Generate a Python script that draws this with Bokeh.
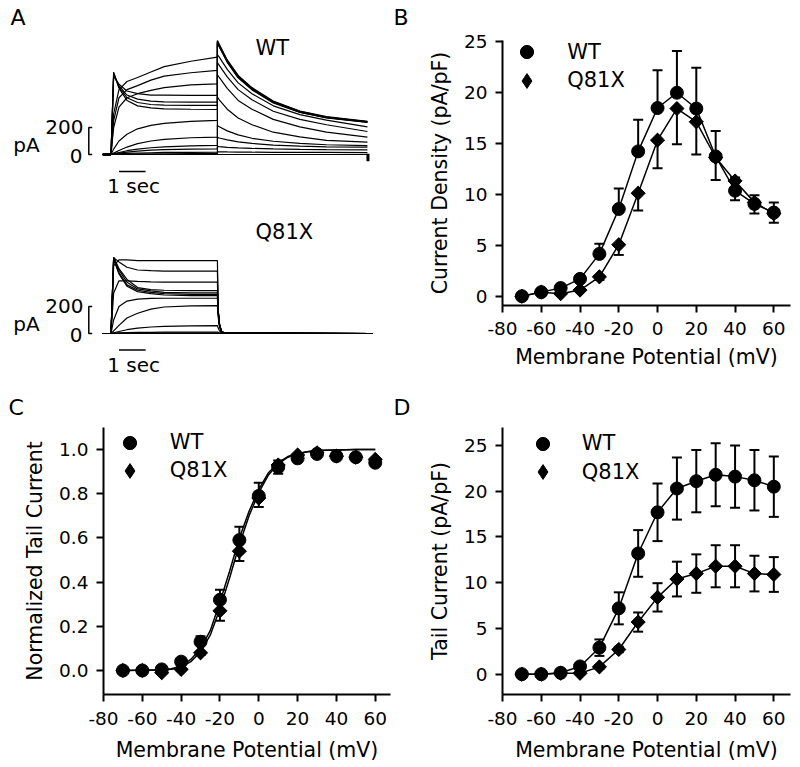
from math import pi
from bokeh.plotting import figure
from bokeh.models import (Range1d, FixedTicker, Whisker, TeeHead, ColumnDataSource,
                          Legend, LegendItem, Label, PrintfTickFormatter)
from bokeh.layouts import row, column
from bokeh.embed import file_html
from bokeh.resources import INLINE

FONT = "DejaVu Sans"

# ---------------------------------------------------------------- data
VOLTS = [-70, -60, -50, -40, -30, -20, -10, 0, 10, 20, 30, 40, 50, 60]
X_TICKS = [-80, -60, -40, -20, 0, 20, 40, 60]
X_LABEL = "Membrane Potential (mV)"

# Panel B: current density (pA/pF)
B_WT = [0, 0.4, 0.8, 1.7, 4.15, 8.55, 14.2, 18.45, 19.95, 18.4, 13.7, 10.35, 9.05, 8.2]
B_WT_ERR = [0, 0, 0, 0.2, 1.0, 2.0, 3.1, 3.7, 4.1, 4.0, 2.5, 1.3, 0.85, 1.0]
B_Q = [0, 0.4, 0.25, 0.6, 1.9, 5.05, 10.1, 15.3, 18.4, 17.1, 13.6, 11.3, 9.2, 8.1]
B_Q_ERR = [0, 0, 0, 0, 0.3, 1.0, 1.7, 2.75, 3.5, 3.2, 2.2, 1.9, 1.1, 0.9]
B_TICKS = [0, 5, 10, 15, 20, 25]

# Panel C: normalized tail current
C_WT = [0, 0, 0.005, 0.04, 0.13, 0.32, 0.59, 0.79, 0.92, 0.96, 0.98, 0.97, 0.965, 0.94]
C_WT_ERR = [0, 0, 0, 0.01, 0.025, 0.045, 0.06, 0.06, 0.03, 0.02, 0.01, 0.015, 0.01, 0.02]
C_Q = [0, 0, -0.01, 0.005, 0.08, 0.27, 0.54, 0.78, 0.93, 0.975, 0.985, 0.97, 0.965, 0.955]
C_Q_ERR = [0, 0, 0, 0, 0.01, 0.045, 0.045, 0.04, 0.04, 0.01, 0.01, 0.01, 0.01, 0.02]
FIT_V = [-70, -50, -45, -40, -35, -30, -25, -20, -15, -10, -5, 0, 5, 10, 15, 20, 25, 30, 40, 50, 60]
FIT_WT = [0.0, 0.003, 0.008, 0.02, 0.05, 0.10, 0.18, 0.31, 0.45, 0.60, 0.72, 0.82, 0.895,
          0.94, 0.968, 0.982, 0.99, 0.995, 0.998, 1.0, 1.0]
FIT_Q = [0.0, 0.002, 0.006, 0.015, 0.04, 0.085, 0.16, 0.28, 0.42, 0.57, 0.70, 0.805, 0.885,
         0.935, 0.965, 0.98, 0.99, 0.995, 0.998, 1.0, 1.0]
C_TICKS = [0.0, 0.2, 0.4, 0.6, 0.8, 1.0]

# Panel D: tail current (pA/pF)
D_WT = [0, 0, 0.15, 0.85, 2.9, 7.2, 13.2, 17.7, 20.3, 21.1, 21.8, 21.6, 21.2, 20.5]
D_WT_ERR = [0, 0, 0.1, 0.3, 0.9, 1.75, 2.55, 3.15, 3.4, 3.4, 3.45, 3.4, 3.3, 3.3]
D_Q = [0, 0, 0.1, 0.1, 0.8, 2.7, 5.7, 8.4, 10.4, 11.0, 11.8, 11.8, 11.0, 10.9]
D_Q_ERR = [0, 0, 0, 0.1, 0.2, 0.3, 1.05, 1.55, 1.9, 2.1, 2.3, 2.3, 1.95, 1.9]
D_TICKS = [0, 5, 10, 15, 20, 25]

# Panel A: current traces (time in s, current in pA), one trace per step voltage
HOLD_T = [-0.32, 0.0]
STEP_T = [0, 0.1, 0.3, 0.6, 1.0, 1.5, 2.0, 3.0, 4.0]
WT_TAIL_T = [4.0, 4.07, 4.37, 4.78, 5.3, 6.1, 7.1, 8.1, 9.64]
Q_TAIL_T = [4.0, 4.03, 4.08, 4.15, 4.25, 9.83]

WT_STEP = [
    [0, 0, 0, 0, 0, 0, 0, 0, 0],
    [0, 1, 2, 3, 4, 5, 5, 6, 6],
    [0, 2, 5, 8, 11, 13, 15, 16, 17],
    [0, 3, 10, 18, 25, 32, 36, 40, 42],
    [0, 5, 15, 28, 40, 50, 57, 64, 67],
    [0, 10, 30, 55, 80, 100, 112, 124, 128],
    [0, 40, 100, 150, 190, 215, 230, 245, 252],
    [0, 200, 350, 420, 450, 475, 495, 515, 523],
    [0, 250, 420, 480, 510, 550, 580, 605, 622],
    [0, 300, 480, 540, 570, 610, 650, 690, 720],
    [0, 580, 520, 470, 450, 440, 440, 437, 437],
    [0, 590, 510, 440, 410, 395, 390, 387, 387],
    [0, 600, 500, 420, 385, 370, 365, 363, 363],
    [0, 610, 490, 400, 360, 345, 338, 335, 333],
]
WT_TAIL = [
    [0, 0, 0, 0, 0, 0, 0, 0, 0],
    [20, 20, 19, 18, 17, 16, 15, 15, 14],
    [60, 58, 53, 49, 45, 41, 38, 36, 34],
    [128, 122, 108, 94, 82, 70, 62, 57, 54],
    [215, 205, 175, 145, 120, 98, 82, 72, 66],
    [424, 405, 335, 270, 220, 165, 130, 105, 91],
    [590, 570, 490, 400, 335, 260, 205, 165, 128],
    [680, 660, 575, 480, 405, 320, 260, 220, 170],
    [740, 720, 630, 530, 450, 360, 295, 255, 205],
    [844, 815, 700, 585, 495, 395, 322, 280, 246],
    [838, 810, 695, 580, 490, 391, 319, 277, 244],
    [832, 805, 690, 575, 486, 388, 316, 275, 242],
    [826, 800, 686, 571, 482, 385, 314, 273, 240],
    [820, 795, 682, 567, 478, 382, 312, 271, 238],
]
WT_ART_T = [9.66, 9.66]
WT_ART_I = [5, -50]

Q_STEP = [
    [0, 0, 0, 0, 0, 0, 0, 0, 0],
    [0, 0, 0, 1, 1, 1, 1, 1, 1],
    [0, 1, 1, 2, 2, 3, 3, 3, 3],
    [0, 2, 4, 6, 8, 9, 10, 10, 10],
    [0, 5, 15, 28, 40, 48, 53, 57, 59],
    [0, 20, 60, 115, 150, 180, 196, 205, 207],
    [0, 100, 200, 240, 255, 260, 261, 261, 261],
    [0, 300, 390, 390, 385, 382, 380, 380, 380],
    [0, 500, 545, 545, 540, 540, 540, 540, 540],
    [0, 560, 530, 490, 470, 465, 462, 461, 461],
    [0, 565, 480, 400, 340, 325, 320, 318, 318],
    [0, 560, 470, 380, 330, 315, 305, 300, 300],
    [0, 555, 450, 360, 320, 305, 295, 290, 290],
    [0, 550, 440, 350, 310, 295, 285, 280, 280],
]
Q_TAIL = [
    [0, 0, 0, 0, 0, 0],
    [1, 0, 0, 0, 0, 0],
    [3, 2, 1, 0, 0, 0],
    [10, 8, 4, 1, 0, 0],
    [59, 40, 20, 5, 1, 0],
    [207, 120, 50, 12, 2, 0],
    [261, 150, 60, 15, 3, 0],
    [380, 165, 66, 17, 4, 0],
    [540, 175, 70, 18, 4, 0],
    [461, 172, 69, 18, 4, 0],
    [318, 160, 64, 16, 3, 0],
    [300, 158, 63, 16, 3, 0],
    [290, 156, 62, 16, 3, 0],
    [280, 155, 61, 15, 3, 0],
]
SCALE_PA = 200
SCALE_S = 1


# ---------------------------------------------------------------- helpers
def axes_fig(width, height, box, xb, yb, yticks, ylabel, yfmt, x_stand, x_lab_stand):
    """Figure whose frame fills the whole canvas; axes are pinned at the
    lower-left corner of the data box so that nothing is clipped."""
    bl, bt, bw, bh = box
    sx = bw / (xb[1] - xb[0])
    sy = bh / (yb[1] - yb[0])
    xr = (xb[0] - bl / sx, xb[1] + (width - bl - bw) / sx)
    yr = (yb[0] - (height - bt - bh) / sy, yb[1] + bt / sy)
    p = figure(width=width, height=height, output_backend="svg", toolbar_location=None,
               x_range=Range1d(*xr), y_range=Range1d(*yr), min_border=0)
    p.grid.visible = False
    p.outline_line_color = None
    p.background_fill_color = "white"
    p.border_fill_color = "white"
    p.xaxis.fixed_location = yb[0]
    p.yaxis.fixed_location = xb[0]
    p.xaxis.bounds = xb
    p.yaxis.bounds = yb
    p.xaxis.ticker = FixedTicker(ticks=X_TICKS)
    p.yaxis.ticker = FixedTicker(ticks=yticks)
    p.xaxis.formatter = PrintfTickFormatter(format="%d")
    p.yaxis.formatter = PrintfTickFormatter(format=yfmt)
    p.xaxis.axis_label = X_LABEL
    p.yaxis.axis_label = ylabel
    for ax in (p.xaxis[0], p.yaxis[0]):
        ax.axis_line_color = "black"
        ax.axis_line_width = 2
        ax.major_tick_line_color = "black"
        ax.major_tick_line_width = 2
        ax.major_tick_out = 7
        ax.major_tick_in = 0
        ax.minor_tick_line_color = None
        ax.major_label_text_font = FONT
        ax.major_label_text_font_size = "18.5px"
        ax.major_label_text_color = "black"
        ax.axis_label_text_font = FONT
        ax.axis_label_text_font_size = "20.5px"
        ax.axis_label_text_font_style = "normal"
        ax.axis_label_text_color = "black"
    p.yaxis.major_label_standoff = 8
    p.yaxis.axis_label_standoff = 9
    p.xaxis.major_label_standoff = x_stand
    p.xaxis.axis_label_standoff = x_lab_stand

    def to_data(px, py):
        return xr[0] + px / sx, yr[1] - py / sy
    return p, to_data


def whisker(p, lo, up, lower_head, upper_head):
    src = ColumnDataSource(dict(x=VOLTS, lo=lo, up=up))
    w = Whisker(source=src, base="x", lower="lo", upper="up", dimension="height",
                line_color="black", line_width=2,
                lower_head=TeeHead(size=10, line_width=2, line_color="black") if lower_head else None,
                upper_head=TeeHead(size=10, line_width=2, line_color="black") if upper_head else None)
    p.add_layout(w)


def markers(p, wt, q):
    rw = p.scatter(VOLTS, wt, marker="circle", size=13, fill_color="black", line_color="black")
    # legend key for the diamonds (hidden under the rotated squares in the plot)
    rkey = p.scatter(VOLTS, q, marker="diamond", size=13, fill_color="black", line_color="black")
    p.scatter(VOLTS, q, marker="square", angle=pi / 4, size=10,
              fill_color="black", line_color="black")
    return rw, rkey


def legends(p, rw, rq, x_center, text_x, row_wt, row_q, fig_h):
    for rend, lab, g, rc in ((rw, "WT", 33, row_wt), (rq, "Q81X", 37, row_q)):
        leg = Legend(items=[LegendItem(label=lab, renderers=[rend])],
                     location=(x_center - g / 2, fig_h - (rc + g / 2)),
                     glyph_width=g, glyph_height=g, label_height=g,
                     label_standoff=int(round(text_x - (x_center + g / 2))),
                     padding=0, margin=0, spacing=0,
                     border_line_color=None, background_fill_alpha=0,
                     label_text_font=FONT, label_text_font_size="21px",
                     label_text_color="black", label_text_baseline="middle")
        p.add_layout(leg)


def put_text(p, text, x, y, size_px, align="left", rn="default"):
    # y is given at the cap-height centre of the text
    p.add_layout(Label(x=x, y=y, text=text, text_font=FONT, text_font_size="%gpx" % size_px,
                       text_color="black", text_align=align, text_baseline="middle",
                       y_range_name=rn))


def mid(baseline_px, size_px):
    """pixel row of the cap centre for a text whose baseline is at baseline_px"""
    return baseline_px - 0.3645 * size_px


# ---------------------------------------------------------------- panel A
def ax_t(px):
    return (px - 110.5) / 26.6


def ax_wt(py):
    return (154 - py) * 7.4


def ax_q(py):
    return (333 - py) * 7.4


pa = figure(width=392, height=388, output_backend="svg", toolbar_location=None,
            x_range=Range1d(ax_t(0), ax_t(392)), y_range=Range1d(ax_wt(388), ax_wt(0)),
            min_border=0, x_axis_location=None, y_axis_location=None)
pa.extra_y_ranges = {"q": Range1d(ax_q(388), ax_q(0))}
pa.grid.visible = False
pa.outline_line_color = None
pa.background_fill_color = "white"
pa.border_fill_color = "white"

for i in range(len(VOLTS)):
    pa.line(HOLD_T + STEP_T + WT_TAIL_T, [0, 0] + WT_STEP[i] + WT_TAIL[i],
            line_color="black", line_width=1.2)
    pa.line(HOLD_T + STEP_T + Q_TAIL_T, [0, 0] + Q_STEP[i] + Q_TAIL[i],
            line_color="black", line_width=1.2, y_range_name="q")
pa.line(HOLD_T, [0, 0], line_color="black", line_width=3)
pa.line(WT_ART_T, WT_ART_I, line_color="black", line_width=3)

for rn, tbar_y in (("default", ax_wt(171)), ("q", ax_q(349.5))):
    xb_, xa_ = ax_t(88.3), ax_t(91.7)
    pa.line([xa_, xb_, xb_, xa_], [SCALE_PA, SCALE_PA, 0, 0], line_color="black",
            line_width=1.5, y_range_name=rn)
    pa.line([ax_t(118.5), ax_t(118.5) + SCALE_S], [tbar_y, tbar_y], line_color="black",
            line_width=1.5, y_range_name=rn)

put_text(pa, "A", ax_t(10), ax_wt(mid(25, 22)), 22)
put_text(pa, "WT", ax_t(255), ax_wt(mid(55, 21)), 21)
put_text(pa, "Q81X", ax_t(255), ax_q(mid(239, 21)), 21, rn="q")
for fy, rn, off in ((ax_wt, "default", 0), (ax_q, "q", 179)):
    put_text(pa, "pA", ax_t(12.7), fy(mid(151.5 + off, 20)), 20, rn=rn)
    put_text(pa, str(SCALE_PA), ax_t(83), fy(mid(134 + off, 20)), 20, align="right", rn=rn)
    put_text(pa, "0", ax_t(82), fy(mid(163 + off, 20)), 20, align="right", rn=rn)
    put_text(pa, "%d sec" % SCALE_S, ax_t(106.7), fy(mid(192.5 + off, 20)), 20, rn=rn)

# ---------------------------------------------------------------- panel B
pb, b_data = axes_fig(408, 388, (110, 40, 288, 265), (-80, -80 + 288 / 1.938), (-0.91, 25.07),
                      B_TICKS, "Current Density (pA/pF)", "%d", 9, 7)
pb.line(VOLTS, B_WT, line_color="black", line_width=1.5)
pb.line(VOLTS, B_Q, line_color="black", line_width=1.5)
whisker(pb, B_WT, [a + b for a, b in zip(B_WT, B_WT_ERR)], False, True)
whisker(pb, [a - b for a, b in zip(B_Q, B_Q_ERR)], B_Q, True, False)
rw, rq = markers(pb, B_WT, B_Q)
legends(pb, rw, rq, 134.7, 174.7, 51.7, 80, 388)
put_text(pb, "B", *b_data(1, mid(25, 22)), 22)

# ---------------------------------------------------------------- panel C
pc, c_data = axes_fig(392, 379, (103, 39, 287, 267), (-80, -80 + 287 / 1.941), (-0.1086, 1.0995),
                      C_TICKS, "Normalized Tail Current", "%.1f", 10, 10)
pc.line(FIT_V, FIT_WT, line_color="black", line_width=1.5)
pc.line(FIT_V, FIT_Q, line_color="black", line_width=1.5)
whisker(pc, C_WT, [a + b for a, b in zip(C_WT, C_WT_ERR)], False, True)
whisker(pc, [a - b for a, b in zip(C_Q, C_Q_ERR)], C_Q, True, False)
rw, rq = markers(pc, C_WT, C_Q)
legends(pc, rw, rq, 129.3, 169.3, 54.3, 82, 379)
put_text(pc, "C", *c_data(8, mid(27, 22)), 22)

# ---------------------------------------------------------------- panel D
pd_, d_data = axes_fig(408, 379, (110, 39, 288, 267), (-80, -80 + 288 / 1.938), (-2.22, 26.97),
                       D_TICKS, "Tail Current (pA/pF)", "%d", 10, 10)
pd_.line(VOLTS, D_WT, line_color="black", line_width=1.5)
pd_.line(VOLTS, D_Q, line_color="black", line_width=1.5)
whisker(pd_, [a - b for a, b in zip(D_WT, D_WT_ERR)], [a + b for a, b in zip(D_WT, D_WT_ERR)], True, True)
whisker(pd_, [a - b for a, b in zip(D_Q, D_Q_ERR)], [a + b for a, b in zip(D_Q, D_Q_ERR)], True, True)
rw, rq = markers(pd_, D_WT, D_Q)
legends(pd_, rw, rq, 150.3, 189.7, 55.3, 83.7, 379)
put_text(pd_, "D", *d_data(1, mid(27, 22)), 22)

layout = column(row(pa, pb), row(pc, pd_))
open("out.html", "w").write(file_html(layout, INLINE))
